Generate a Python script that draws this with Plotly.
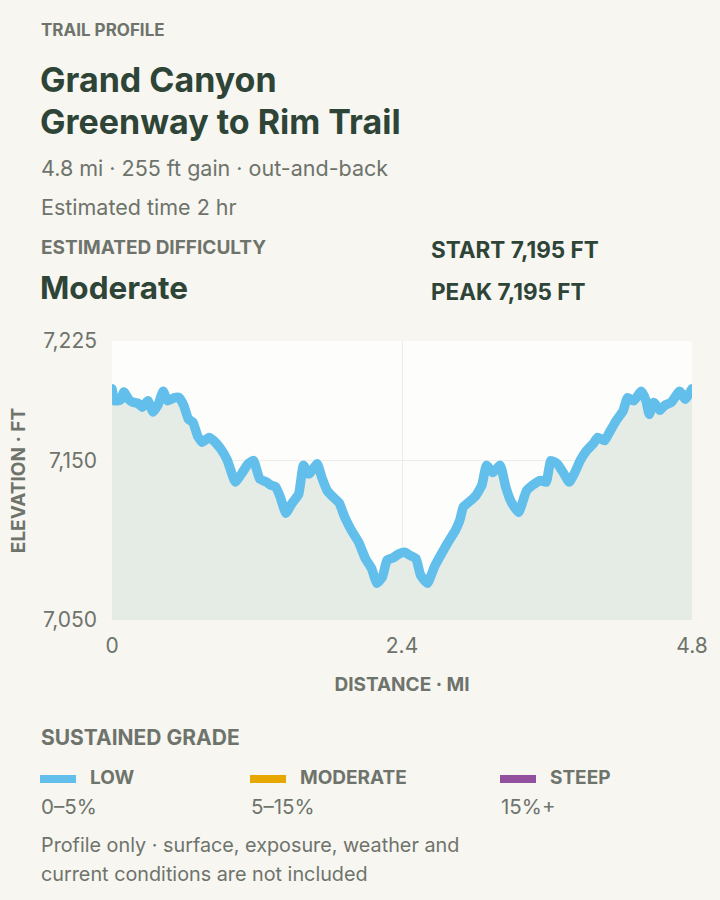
import plotly.graph_objects as go

# ---------------- data ----------------
distance_mi = [0, 0.023, 0.069, 0.099, 0.137, 0.175, 0.213, 0.251, 0.297, 0.339,
               0.384, 0.423, 0.461, 0.518, 0.556, 0.594, 0.632, 0.670, 0.708, 0.746,
               0.803, 0.841, 0.898, 0.955, 1.020, 1.070, 1.127, 1.172, 1.222, 1.279,
               1.317, 1.355, 1.393, 1.439, 1.488, 1.545, 1.584, 1.629, 1.698, 1.736,
               1.782, 1.831, 1.880, 1.926, 1.983, 2.040, 2.097, 2.147, 2.193, 2.238,
               2.276, 2.326, 2.375, 2.421, 2.467, 2.516, 2.554, 2.611, 2.669, 2.726,
               2.783, 2.840, 2.878, 2.908, 2.954, 3.011, 3.061, 3.099, 3.152, 3.213,
               3.258, 3.304, 3.365, 3.430, 3.479, 3.544, 3.593, 3.632, 3.685, 3.734,
               3.784, 3.830, 3.875, 3.925, 3.982, 4.020, 4.077, 4.115, 4.172, 4.229,
               4.267, 4.317, 4.381, 4.420, 4.446, 4.484, 4.534, 4.572, 4.629, 4.697,
               4.743, 4.8]
elevation_ft = [7195, 7187.5, 7188, 7193, 7188.5, 7186.5, 7186, 7183.5, 7187.5, 7180.5,
                7185.5, 7193.5, 7187.5, 7189.5, 7189.5, 7184.5, 7176, 7174, 7165.5, 7161.5,
                7164.5, 7162.5, 7157.5, 7150, 7136.5, 7141.5, 7148, 7150, 7138.5, 7136.5,
                7134.5, 7133.5, 7127, 7117, 7123, 7129, 7147, 7141.5, 7148, 7139.5,
                7131, 7127, 7123.5, 7114.5, 7106, 7099, 7088.5, 7082.5, 7073, 7077,
                7087.5, 7089, 7091.5, 7092.5, 7090.5, 7088.5, 7078, 7073, 7083.5, 7091.5,
                7099, 7106, 7112.5, 7121, 7124, 7128, 7134.5, 7147, 7142.5, 7147,
                7133.5, 7124, 7117.5, 7131, 7134.5, 7137.5, 7136.5, 7150, 7148, 7142.5,
                7136.5, 7142.5, 7150, 7156, 7160.5, 7164.5, 7162.5, 7167.5, 7175, 7181,
                7189.5, 7187.5, 7193.5, 7187.5, 7179, 7186.5, 7181.5, 7184.5, 7186.5, 7193.5,
                7188.5, 7195]

x_tick_vals = [0, 2.4, 4.8]
x_tick_text = ["0", "2.4", "4.8"]
y_tick_vals = [7050, 7150, 7225]
y_tick_text = ["7,050", "7,150", "7,225"]

grade_names = ["LOW", "MODERATE", "STEEP"]
grade_ranges = ["0–5%", "5–15%", "15%+"]
grade_colors = ["#62BFEC", "#E6A800", "#93509E"]

kicker = "TRAIL PROFILE"
title_lines = ["Grand Canyon", "Greenway to Rim Trail"]
subtitle = "4.8 mi · 255 ft gain · out-and-back"
time_text = "Estimated time 2 hr"
difficulty_label = "ESTIMATED DIFFICULTY"
difficulty_value = "Moderate"
start_text = "START 7,195 FT"
peak_text = "PEAK 7,195 FT"
legend_title = "SUSTAINED GRADE"
footnote_lines = ["Profile only · surface, exposure, weather and",
                  "current conditions are not included"]

# ---------------- styling ----------------
W, H = 720, 900
ML, MR, MT, MB = 112, 28, 341, 280
PW, PH = W - ML - MR, H - MT - MB
FONT = "Inter"
DARK = "#2E4437"
GRAY = "#6E736B"
PAPER = "#F7F6F1"


def px(xp):
    return (xp - ML) / PW


def py(yp):
    return (H - MB - yp) / PH


fig = go.Figure()
fig.add_trace(go.Scatter(
    x=distance_mi, y=elevation_ft, mode="lines",
    line=dict(color=grade_colors[0], width=9.5, shape="spline", smoothing=0.4),
    fill="tozeroy", fillcolor="#E5ECE5",
    hoverinfo="skip", showlegend=False,
))

annotations = []


def txt(s, x, y, size, color, weight=400, xanchor="left"):
    annotations.append(dict(
        text=s, x=px(x), y=py(y), xref="paper", yref="paper",
        xanchor=xanchor, yanchor="middle", showarrow=False,
        font=dict(family=FONT, size=size, color=color, weight=weight),
    ))


txt(kicker, 39, 30, 17, GRAY, 700)
txt(title_lines[0], 38, 79, 34, DARK, 700)
txt(title_lines[1], 38, 121, 34, DARK, 700)
txt(subtitle, 39, 168, 21.5, GRAY)
txt(time_text, 39, 207, 21.5, GRAY)
txt(difficulty_label, 39, 247, 19, GRAY, 700)
txt(difficulty_value, 38, 287, 31.5, DARK, 700)
txt(start_text, 429, 250, 22.5, DARK, 700)
txt(peak_text, 429, 291, 22.5, DARK, 700)

txt(legend_title, 39, 737, 21, GRAY, 700)
shapes = []
swatch_x = [40, 250, 500]
for i, (name, rng, col) in enumerate(zip(grade_names, grade_ranges, grade_colors)):
    x0 = swatch_x[i]
    shapes.append(dict(type="rect", xref="paper", yref="paper",
                       x0=px(x0), x1=px(x0 + 36), y0=py(783), y1=py(775),
                       fillcolor=col, line=dict(width=0)))
    txt(name, x0 + 48, 777, 19, GRAY, 700)
    txt(rng, x0 - 1, 806, 20.5, GRAY)
txt(footnote_lines[0], 39, 845, 19.8, GRAY)
txt(footnote_lines[1], 39, 874, 19.8, GRAY)

fig.update_layout(
    width=W, height=H,
    margin=dict(l=ML, r=MR, t=MT, b=MB),
    paper_bgcolor=PAPER, plot_bgcolor="#FDFDFB",
    font=dict(family=FONT, color=GRAY),
    annotations=annotations, shapes=shapes,
    xaxis=dict(range=[0, 4.8], tickvals=x_tick_vals, ticktext=x_tick_text,
               showgrid=True, gridcolor="#ECECE8", gridwidth=1, zeroline=False,
               showline=False, ticks="", tickfont=dict(size=21, color=GRAY),
               ticklabelstandoff=11,
               title=dict(text="DISTANCE · MI", standoff=20,
                          font=dict(size=19, color=GRAY, weight=700))),
    yaxis=dict(range=[7050, 7225], tickvals=y_tick_vals, ticktext=y_tick_text,
               showgrid=True, gridcolor="#ECECE8", gridwidth=1, zeroline=False,
               showline=False, ticks="", tickfont=dict(size=21, color=GRAY),
               ticklabelstandoff=14,
               title=dict(text="ELEVATION · FT", standoff=12,
                          font=dict(size=19, color=GRAY, weight=700))),
    hovermode=False,
)

post = """
document.body.style.margin='0';
document.body.style.background='#F7F6F1';
var st=document.createElement('style');
st.innerHTML='.scatterlayer .js-line{stroke-linejoin:round!important;stroke-linecap:round!important;}';
document.head.appendChild(st);
"""
fig.write_html("out.html", post_script=post, config={"displayModeBar": False})
